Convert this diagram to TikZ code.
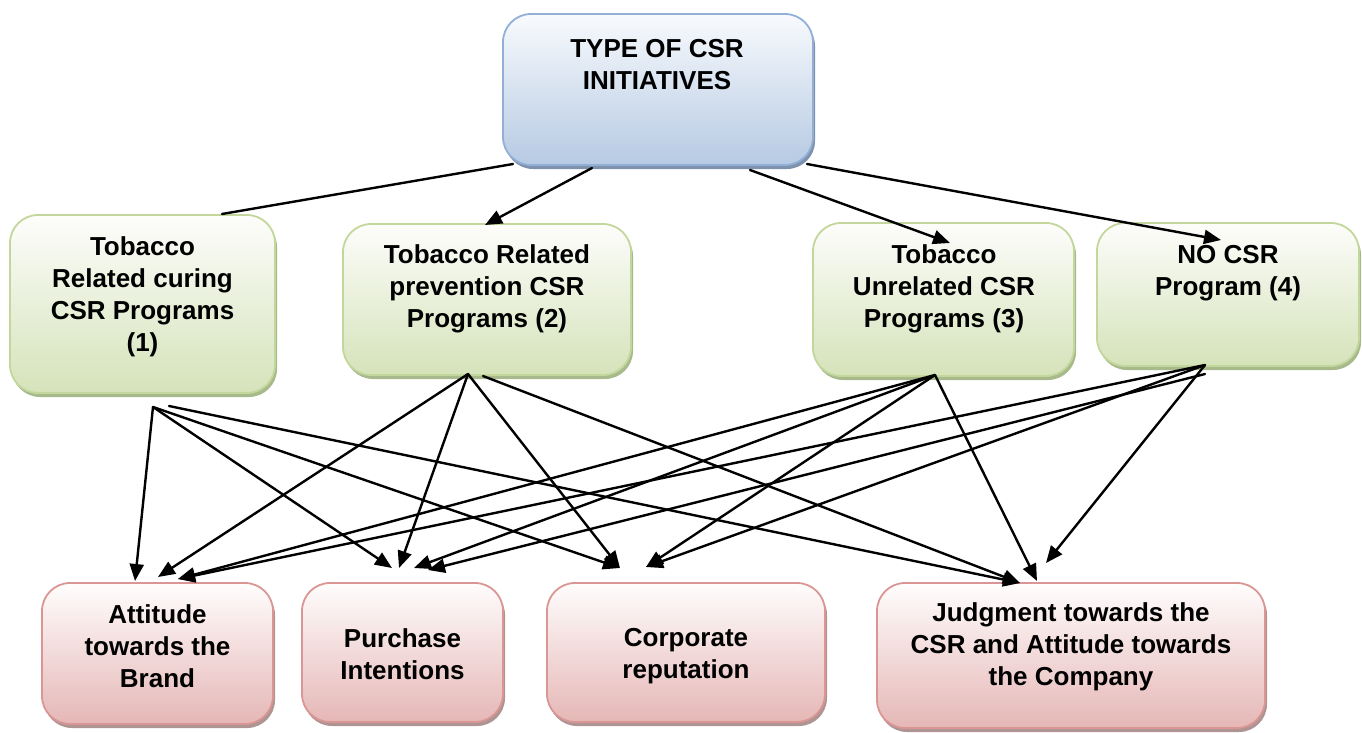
\documentclass[tikz,border=0pt]{standalone}
\usepackage{fontspec}
\setmainfont{Liberation Sans}
\usetikzlibrary{arrows.meta,shadows,calc}
\definecolor{blueTop}{HTML}{F8FAFD}
\definecolor{blueBot}{HTML}{B6CAE3}
\definecolor{blueBorder}{HTML}{92AFD6}
\definecolor{blueShadow}{HTML}{7F92AD}
\definecolor{greenTop}{HTML}{FDFDFB}
\definecolor{greenBot}{HTML}{D5E3BA}
\definecolor{greenBorder}{HTML}{C3D69B}
\definecolor{greenShadow}{HTML}{A8B98C}
\definecolor{redTop}{HTML}{FFFDFD}
\definecolor{redBot}{HTML}{E5B7B6}
\definecolor{redBorder}{HTML}{D99694}
\definecolor{redShadow}{HTML}{AE9493}
\begin{document}
\begin{tikzpicture}[x=1pt,y=-1pt,
  box/.style={rounded corners=28pt, line width=1.8pt, inner sep=0pt, shading angle=0},
  bluebox/.style={box, draw=blueBorder, top color=blueTop, bottom color=blueBot,
    general shadow={fill=blueShadow, shadow xshift=2pt, shadow yshift=-4pt}},
  greenbox/.style={box, draw=greenBorder, top color=greenTop, bottom color=greenBot,
    general shadow={fill=greenShadow, shadow xshift=2pt, shadow yshift=-4pt}},
  redbox/.style={box, draw=redBorder, top color=redTop, bottom color=redBot,
    general shadow={fill=redShadow, shadow xshift=2pt, shadow yshift=-4pt}},
  txt/.style={font=\bfseries\fontsize{26}{32}\selectfont, align=center, inner sep=0pt},
  ln/.style={line width=2.4pt, line cap=round},
  arr/.style={ln, -{Triangle[length=17pt,width=14pt]}},
]
\useasboundingbox (0,0) rectangle (1362,733);

% boxes
\node[bluebox, minimum width=310pt, minimum height=151pt] (top) at (658,89.5) {};
\node[greenbox, minimum width=265pt, minimum height=178pt] (b1) at (142.5,304) {};
\node[greenbox, minimum width=288pt, minimum height=151pt] (b2) at (487,299.5) {};
\node[greenbox, minimum width=261pt, minimum height=153pt] (b3) at (943.5,299.5) {};
\node[greenbox, minimum width=262pt, minimum height=143pt] (b4) at (1228,294.5) {};
\node[redbox, minimum width=231pt, minimum height=141pt] (oa) at (157.5,653.5) {};
\node[redbox, minimum width=201pt, minimum height=139pt] (ob) at (402.5,652.5) {};
\node[redbox, minimum width=278pt, minimum height=139pt] (oc) at (686,652.5) {};
\node[redbox, minimum width=388pt, minimum height=145pt] (od) at (1071,655.5) {};

% texts
\node[txt] (ttop) at (657,64.5) {TYPE OF CSR\\INITIATIVES};
\node[txt] (tb1) at (142.5,297) {Tobacco\\Related curing\\CSR Programs\\(1)};
\node[txt] (tb2) at (487,289) {Tobacco Related\\prevention CSR\\Programs (2)};
\node[txt] (tb3) at (944,289) {Tobacco\\Unrelated CSR\\Programs (3)};
\node[txt] (tb4) at (1228,273) {NO CSR\\Program (4)};
\node[txt] (toa) at (157.5,646) {Attitude\\towards the\\Brand};
\node[txt] (tob) at (402.5,654) {Purchase\\Intentions};
\node[txt] (toc) at (686,656) {Corporate\\reputation};
\node[txt] (tod) at (1071,647) {Judgment towards the\\CSR and Attitude towards\\the Company};

% connector points from the top box
\coordinate (s1) at (513,164);
\coordinate (s2) at (592,168);
\coordinate (s3) at (750,170);
\coordinate (s4) at (807,164);
\coordinate (e1) at (222,214);
\coordinate (e2) at (485,225);
\coordinate (e3) at (950,243);
\coordinate (e4) at (1221,240);

\draw[ln] (s1) -- (e1);
\draw[arr] (s2) -- (e2);
\draw[arr] (s3) -- (e3);
\draw[arr] (s4) -- (e4);

% origins below the middle boxes
\coordinate (p1a) at (153,407);
\coordinate (p1b) at (169,406);
\coordinate (p2)  at (468,374);
\coordinate (p2b) at (483,376);
\coordinate (p3)  at (935,375);
\coordinate (p4)  at (1205,365);
\coordinate (p4b) at (1205,374);

% tips above the outcome boxes
\coordinate (a1) at (135,581);
\coordinate (a2) at (158,577);
\coordinate (a3) at (178,579);
\coordinate (bb1) at (392,568);
\coordinate (bb2) at (399,568);
\coordinate (bb3) at (414,568);
\coordinate (bb4) at (428,570);
\coordinate (c1) at (620,568);
\coordinate (c2) at (646,567);
\coordinate (d1) at (1020,583);
\coordinate (d2) at (1037,581);
\coordinate (d3) at (1046,563);

\draw[arr] (p1a) -- (a1);
\draw[arr] (p1a) -- (bb1);
\draw[arr] (p1a) -- (c1);
\draw[arr] (p1b) -- (d1);

\draw[arr] (p2) -- (a2);
\draw[arr] (p2) -- (bb2);
\draw[arr] (p2) -- (c1);
\draw[arr] (p2b) -- (d1);

\draw[arr] (p3) -- (a3);
\draw[arr] (p3) -- (bb3);
\draw[arr] (p3) -- (c2);
\draw[arr] (p3) -- (d2);

\draw[arr] (p4) -- (a3);
\draw[arr] (p4b) -- (bb4);
\draw[arr] (p4) -- (c2);
\draw[arr] (p4) -- (d3);
\end{tikzpicture}
\end{document}
